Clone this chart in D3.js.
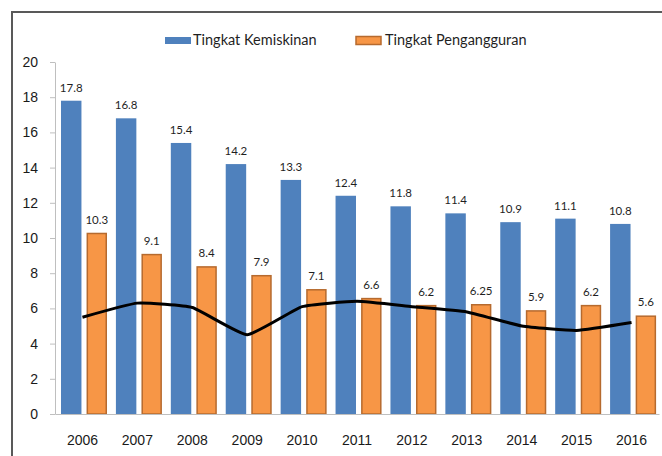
<!DOCTYPE html>
<meta charset="utf-8">
<style>
body { margin: 0; background: #fff; }
svg { display: block; font-family: Lato, "Open Sans", sans-serif; }
.axis path.domain, .axis line { stroke: #bfbfbf; }
.axis text { fill: #1a1a1a; font-size: 14px; }
.lbl { fill: #1f1f1f; font-size: 11.5px; text-anchor: middle; }
.leg { fill: #1f1f1f; font-size: 14.5px; }
</style>
<body>
<div id="chart"></div>
<script src="https://d3js.org/d3.v7.min.js"></script>
<script>
// data
var years = ["2006","2007","2008","2009","2010","2011","2012","2013","2014","2015","2016"];
var kemiskinan = [17.8, 16.8, 15.4, 14.2, 13.3, 12.4, 11.8, 11.4, 10.9, 11.1, 10.8];
var pengangguran = [10.3, 9.1, 8.4, 7.9, 7.1, 6.6, 6.2, 6.25, 5.9, 6.2, 5.6];
var pertumbuhan = [5.5, 6.3, 6.05, 4.5, 6.1, 6.4, 6.1, 5.8, 5.0, 4.75, 5.2];
var yTicks = [0, 2, 4, 6, 8, 10, 12, 14, 16, 18, 20];
var seriesNames = ["Tingkat Kemiskinan", "Tingkat Pengangguran"];

var W = 662, H = 456;

var svg = d3.select("#chart").append("svg")
    .attr("width", W)
    .attr("height", H);

svg.append("rect").attr("width", W).attr("height", H).attr("fill", "#fff");

// outer frame (only top and left show)
svg.append("path")
    .attr("d", "M12," + H + "V12H" + W)
    .attr("fill", "none")
    .attr("stroke", "#595959")
    .attr("stroke-width", 2);

var y = d3.scaleLinear().domain([0, 20]).range([414, 62]);
var x0 = d3.scaleBand().domain(years).range([55, 659]);
var x1 = d3.scaleBand().domain(["k", "p"]).range([6, 52]).paddingInner(0.2);

// bars
var g = svg.append("g");
var groups = g.selectAll("g.year")
    .data(years)
  .enter().append("g")
    .attr("class", "year")
    .attr("transform", function(d) { return "translate(" + x0(d) + ",0)"; });

groups.append("rect")
    .attr("x", x1("k"))
    .attr("width", x1.bandwidth())
    .attr("y", function(d, i) { return y(kemiskinan[i]); })
    .attr("height", function(d, i) { return y(0) - y(kemiskinan[i]); })
    .attr("fill", "#4f81bd");

groups.append("rect")
    .attr("x", x1("p") + 0.75)
    .attr("width", x1.bandwidth() - 1.5)
    .attr("y", function(d, i) { return y(pengangguran[i]) + 0.75; })
    .attr("height", function(d, i) { return y(0) - y(pengangguran[i]) - 0.75; })
    .attr("fill", "#f79646")
    .attr("stroke", "#b66a2e")
    .attr("stroke-width", 1.5);

// data labels
groups.append("text")
    .attr("class", "lbl")
    .attr("x", x1("k") + x1.bandwidth() / 2)
    .attr("y", function(d, i) { return y(kemiskinan[i]) - 9; })
    .text(function(d, i) { return kemiskinan[i]; });

groups.append("text")
    .attr("class", "lbl")
    .attr("x", x1("p") + x1.bandwidth() / 2)
    .attr("y", function(d, i) { return y(pengangguran[i]) - 9; })
    .text(function(d, i) { return pengangguran[i]; });

// axes
svg.append("g").attr("class", "axis")
    .attr("transform", "translate(55,0)")
    .call(d3.axisLeft(y).tickValues(yTicks).tickSize(5).tickSizeOuter(0).tickPadding(12));

svg.append("g").attr("class", "axis")
    .attr("transform", "translate(0,414)")
    .call(d3.axisBottom(x0).tickSize(0).tickPadding(21));

// growth line
var line = d3.line()
    .x(function(d, i) { return x0(years[i]) + x0.bandwidth() / 2; })
    .y(function(d) { return y(d); })
    .curve(d3.curveCardinal.tension(0.6));

svg.append("path")
    .datum(pertumbuhan)
    .attr("d", line)
    .attr("fill", "none")
    .attr("stroke", "#000")
    .attr("stroke-width", 3)
    .attr("stroke-linejoin", "round");

// legend
var leg = svg.append("g");
leg.append("rect").attr("x", 165).attr("y", 37).attr("width", 26).attr("height", 7).attr("fill", "#4f81bd");
leg.append("text").attr("class", "leg").attr("x", 193).attr("y", 40).attr("dy", "0.35em").text(seriesNames[0]);
leg.append("rect").attr("x", 356).attr("y", 36.5).attr("width", 25).attr("height", 8)
    .attr("fill", "#f79646").attr("stroke", "#b66a2e").attr("stroke-width", 1.5);
leg.append("text").attr("class", "leg").attr("x", 385).attr("y", 40).attr("dy", "0.35em").text(seriesNames[1]);
</script>
</body>
